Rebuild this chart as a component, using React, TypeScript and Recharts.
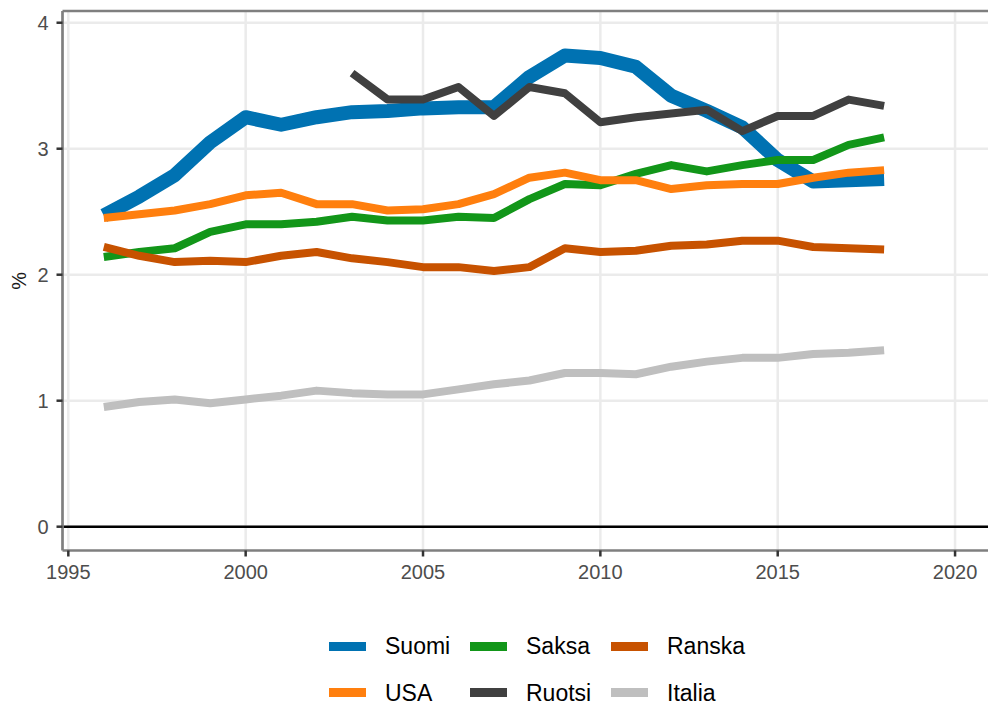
import React from 'react';
import {
  LineChart,
  Line,
  XAxis,
  YAxis,
  CartesianGrid,
  ReferenceLine,
  Legend,
} from 'recharts';

// T&K-menot suhteessa BKT:hen, %
const years = [
  1996, 1997, 1998, 1999, 2000, 2001, 2002, 2003, 2004, 2005, 2006, 2007,
  2008, 2009, 2010, 2011, 2012, 2013, 2014, 2015, 2016, 2017, 2018,
];

const suomi = [2.47, 2.62, 2.79, 3.05, 3.25, 3.19, 3.25, 3.29, 3.30, 3.32, 3.33, 3.33, 3.57, 3.74, 3.72, 3.65, 3.42, 3.30, 3.17, 2.91, 2.74, 2.75, 2.76];
const saksa = [2.14, 2.18, 2.21, 2.34, 2.40, 2.40, 2.42, 2.46, 2.43, 2.43, 2.46, 2.45, 2.60, 2.72, 2.71, 2.80, 2.87, 2.82, 2.87, 2.91, 2.91, 3.03, 3.09];
const ranska = [2.22, 2.15, 2.10, 2.11, 2.10, 2.15, 2.18, 2.13, 2.10, 2.06, 2.06, 2.03, 2.06, 2.21, 2.18, 2.19, 2.23, 2.24, 2.27, 2.27, 2.22, 2.21, 2.20];
const usa = [2.45, 2.48, 2.51, 2.56, 2.63, 2.65, 2.56, 2.56, 2.51, 2.52, 2.56, 2.64, 2.77, 2.81, 2.75, 2.75, 2.68, 2.71, 2.72, 2.72, 2.77, 2.81, 2.83];
const ruotsi = [null, null, null, null, null, null, null, 3.60, 3.39, 3.39, 3.49, 3.26, 3.49, 3.44, 3.21, 3.25, 3.28, 3.31, 3.14, 3.26, 3.26, 3.39, 3.34];
const italia = [0.95, 0.99, 1.01, 0.98, 1.01, 1.04, 1.08, 1.06, 1.05, 1.05, 1.09, 1.13, 1.16, 1.22, 1.22, 1.21, 1.27, 1.31, 1.34, 1.34, 1.37, 1.38, 1.40];

const xTicks = [1995, 2000, 2005, 2010, 2015, 2020];
const yTicks = [0, 1, 2, 3, 4];

const series = [
  { key: 'Suomi', values: suomi, color: '#0072B2', width: 14 },
  { key: 'Saksa', values: saksa, color: '#129619', width: 8 },
  { key: 'Ranska', values: ranska, color: '#C75200', width: 8 },
  { key: 'USA', values: usa, color: '#FF7F0E', width: 8 },
  { key: 'Ruotsi', values: ruotsi, color: '#404040', width: 8 },
  { key: 'Italia', values: italia, color: '#BFBFBF', width: 8 },
];

const data = years.map((year, i) => {
  const row: Record<string, number | null> = { year };
  series.forEach(s => {
    row[s.key] = s.values[i];
  });
  return row;
});

const FONT = '"Liberation Sans", Arial, Helvetica, sans-serif';
// the panel runs past the right edge of the picture, so the chart is a bit wider than the frame
const X_DOMAIN: [number, number] = [1994.836, 2021.267];
const Y_DOMAIN: [number, number] = [-0.189, 4.093];

const renderLegend = () => (
  <div style={{ position: 'relative', width: 988, height: 93.5, fontFamily: FONT, fontSize: 23, color: '#000' }}>
    {series.map((s, i) => {
      const left = 329 + (i % 3) * 141;
      const cy = 35.5 + Math.floor(i / 3) * 46.5;
      return (
        <React.Fragment key={s.key}>
          <div style={{ position: 'absolute', left, top: cy - 4.5, width: 37, height: 9, background: s.color }} />
          <span style={{ position: 'absolute', left: left + 56, top: cy - 14, lineHeight: '28px', whiteSpace: 'nowrap' }}>
            {s.key}
          </span>
        </React.Fragment>
      );
    })}
  </div>
);

const YLabel = (props: any) => {
  const vb = props.viewBox || { x: 0, y: 0, width: 0, height: 0 };
  const cx = vb.x + 18.5;
  const cy = vb.y + vb.height / 2;
  return (
    <text
      x={cx}
      y={cy}
      transform={`rotate(-90 ${cx} ${cy})`}
      textAnchor="middle"
      dominantBaseline="central"
      fontSize={20}
      fill="#1a1a1a"
      fontFamily={FONT}
    >
      %
    </text>
  );
};

export default function App() {
  return (
    <div style={{ position: 'absolute', left: 0, top: 0, width: 988, height: 704, overflow: 'hidden', background: '#fff', fontFamily: FONT }}>
      <LineChart width={1000} height={704} data={data} margin={{ top: 11, right: 0, bottom: 0, left: 0 }}>
        <CartesianGrid stroke="#ebebeb" strokeWidth={2.5} verticalValues={xTicks} horizontalValues={yTicks} />
        <XAxis
          type="number"
          dataKey="year"
          domain={X_DOMAIN}
          ticks={xTicks}
          allowDataOverflow
          height={60}
          axisLine={{ stroke: '#7f7f7f', strokeWidth: 2.7 }}
          tickLine={{ stroke: '#333333', strokeWidth: 2.5 }}
          tickSize={6}
          tickMargin={8}
          tick={{ fontSize: 20, fill: '#4d4d4d', fontFamily: FONT }}
        />
        <YAxis
          type="number"
          domain={Y_DOMAIN}
          ticks={yTicks}
          allowDataOverflow
          width={62.5}
          axisLine={{ stroke: '#7f7f7f', strokeWidth: 2.7 }}
          tickLine={{ stroke: '#333333', strokeWidth: 2.5 }}
          tickSize={6}
          tickMargin={8}
          tick={{ fontSize: 20, fill: '#4d4d4d', fontFamily: FONT }}
          label={<YLabel />}
        />
        <ReferenceLine y={Y_DOMAIN[1]} stroke="#7f7f7f" strokeWidth={2.7} />
        <ReferenceLine y={0} stroke="#000000" strokeWidth={2.5} />
        {series.map(s => (
          <Line
            key={s.key}
            type="linear"
            dataKey={s.key}
            stroke={s.color}
            strokeWidth={s.width}
            strokeLinejoin="round"
            dot={false}
            activeDot={false}
            isAnimationActive={false}
          />
        ))}
        <Legend
          verticalAlign="bottom"
          content={renderLegend}
          wrapperStyle={{ left: 0, bottom: 0, width: 988, height: 93.5 }}
        />
      </LineChart>
    </div>
  );
}
